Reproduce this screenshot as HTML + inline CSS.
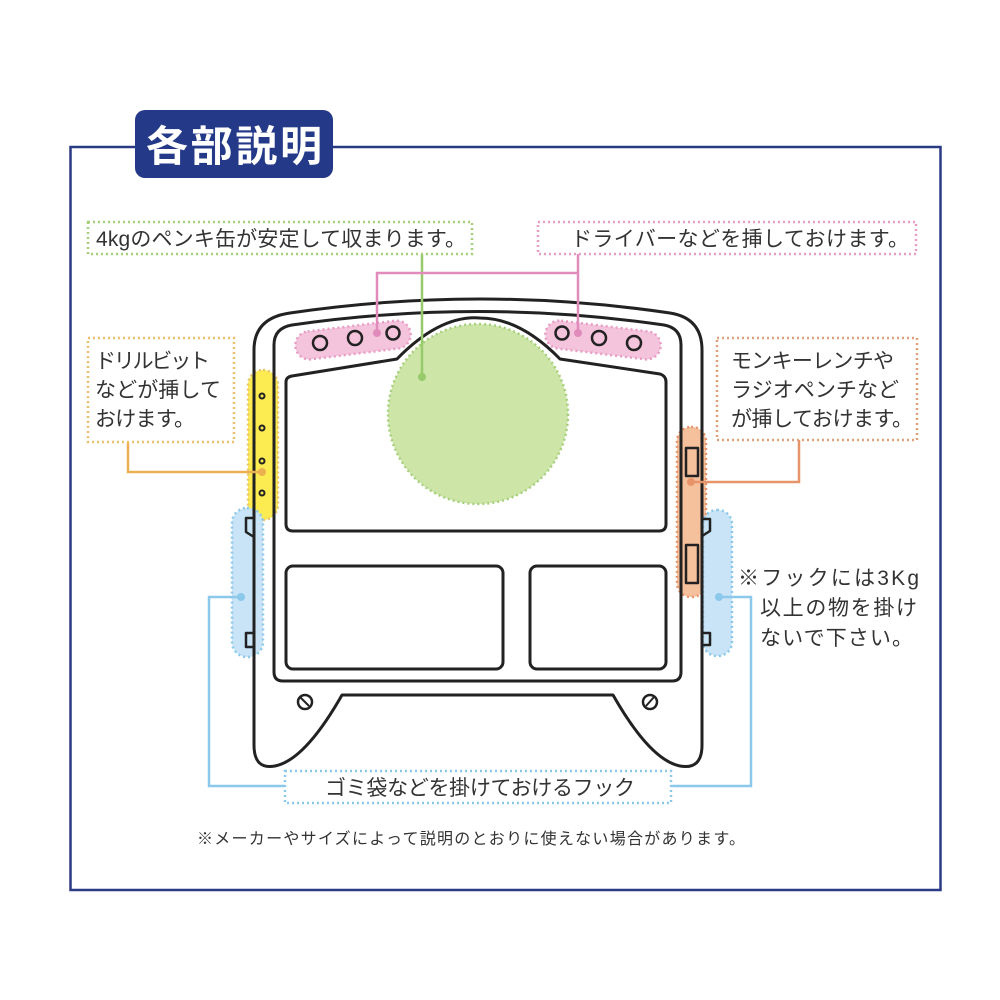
<!DOCTYPE html>
<html><head><meta charset="utf-8">
<style>
html,body{margin:0;padding:0;background:#fff;}
svg{display:block;}
text{font-family:"Liberation Sans","Noto Sans CJK JP",sans-serif;fill:#333;}
</style></head><body>
<svg width="1000" height="1000" viewBox="0 0 1000 1000" xmlns="http://www.w3.org/2000/svg">
<rect x="70.5" y="147" width="870" height="743" fill="none" stroke="#2b3a84" stroke-width="2.5"/>
<rect x="135" y="110" width="198" height="68" rx="10" fill="#243a88"/>
<rect x="135" y="146" width="198" height="3" fill="#243a88"/>
<text x="234" y="161" text-anchor="middle" font-size="42" font-weight="bold" style="fill:#fff" textLength="176">各部説明</text>

<path d="M254,350 Q254,318 290,313 Q480,285 670,313 Q702,318 702,350 L702,745 Q702,770 680,766 Q650,760 613,695 L342,695 Q305,760 275,766 Q254,770 254,745 Z" fill="#fff"/>

<rect x="248" y="370" width="30" height="150" rx="15" fill="#fcec52" stroke="#e8c46a" stroke-width="2.5" stroke-dasharray="2 3"/>
<rect x="232" y="508" width="31" height="149" rx="15" fill="#c9e4f6" stroke="#8cc8ea" stroke-width="2.5" stroke-dasharray="2 3"/>
<rect x="677" y="427" width="29" height="170" rx="14" fill="#f5c09c" stroke="#e8946a" stroke-width="2.5" stroke-dasharray="2 3"/>
<rect x="703" y="510" width="29" height="146" rx="14" fill="#c9e4f6" stroke="#8cc8ea" stroke-width="2.5" stroke-dasharray="2 3"/>
<g transform="rotate(-7 353 340)"><rect x="295" y="326" width="116" height="28" rx="14" fill="#f4c3dc" stroke="#e99cc4" stroke-width="2.5" stroke-dasharray="2 3"/></g>
<g transform="rotate(7 603 340)"><rect x="545" y="326" width="116" height="28" rx="14" fill="#f4c3dc" stroke="#e99cc4" stroke-width="2.5" stroke-dasharray="2 3"/></g>

<g fill="none" stroke="#222" stroke-width="3" stroke-linejoin="round">
<path d="M254,350 Q254,318 290,313 Q480,285 670,313 Q702,318 702,350 L702,745 Q702,770 680,766 Q650,760 613,695 L342,695 Q305,760 275,766 Q254,770 254,745 Z"/>
<path d="M274,345 Q274,328 292,325 Q480,298 664,325 Q681,328 681,345 L681,672 Q681,681 672,681 L283,681 Q274,681 274,672 Z"/>
<path d="M286,382 Q286,377 292,376 L397,359 Q440,315 480,318 Q520,318 560,359 L660,374 Q666,376 666,382 L666,524 Q666,531 659,531 L293,531 Q286,531 286,524 Z"/>
<rect x="286" y="566" width="217" height="103" rx="7"/>
<rect x="530" y="566" width="136" height="103" rx="7"/>
<circle cx="305" cy="702" r="7" stroke-width="2.5"/><line x1="300" y1="697" x2="309" y2="706" stroke-width="2"/>
<circle cx="650" cy="702" r="7" stroke-width="2.5"/><line x1="654" y1="697" x2="646" y2="706" stroke-width="2"/>
<path d="M254,518 L246,518 L246,532 L254,537" stroke-width="2.5"/>
<path d="M254,633 L246,633 L246,647 L254,647" stroke-width="2.5"/>
<path d="M702,519 L710,519 L710,531 L702,536" stroke-width="2.5"/>
<path d="M702,633 L710,633 L710,645 L702,645" stroke-width="2.5"/>
<rect x="686" y="448" width="12" height="28" stroke-width="2.5"/>
<rect x="686" y="545" width="12" height="38" stroke-width="2.5"/>
<circle cx="320" cy="343" r="7" stroke-width="2.5"/><circle cx="355" cy="338" r="7" stroke-width="2.5"/><circle cx="393" cy="333" r="6.5" stroke-width="2.5"/>
<circle cx="562" cy="333" r="6.5" stroke-width="2.5"/><circle cx="599" cy="338" r="7" stroke-width="2.5"/><circle cx="634" cy="343" r="7" stroke-width="2.5"/>
<circle cx="262" cy="396" r="2.5" stroke-width="2"/><circle cx="262" cy="428" r="2.5" stroke-width="2"/><circle cx="262" cy="461" r="2.5" stroke-width="2"/><circle cx="262" cy="493" r="2.5" stroke-width="2"/>
</g>

<circle cx="478" cy="414" r="90" fill="#cde6a8" stroke="#a6cf7c" stroke-width="2.5" stroke-dasharray="2 3"/>

<g fill="none" stroke-width="2.5">
<path d="M422,377 L422,254" stroke="#98c96a"/>
<path d="M377,333 L377,273 L578,273 M578,333 L578,254" stroke="#e08bbb"/>
<path d="M262,472 L128,472 L128,442" stroke="#ebb050"/>
<path d="M691,482 L799,482 L799,440" stroke="#e8946a"/>
<path d="M241,597 L209,597 L209,786 L285,786" stroke="#8cc8ea"/>
<path d="M719,597 L751,597 L751,786 L671,786" stroke="#8cc8ea"/>
</g>
<g>
<circle cx="422" cy="377" r="4" fill="#98c96a"/>
<circle cx="377" cy="333" r="4" fill="#e08bbb"/><circle cx="578" cy="333" r="4" fill="#e08bbb"/>
<circle cx="262" cy="472" r="4" fill="#ebb050"/>
<circle cx="691" cy="482" r="4" fill="#e8946a"/>
<circle cx="241" cy="597" r="4" fill="#8cc8ea"/><circle cx="719" cy="597" r="4" fill="#8cc8ea"/>
</g>

<g fill="#fff" stroke-width="2.5" stroke-dasharray="2 3">
<rect x="88" y="222" width="384" height="32" stroke="#a6cf7c"/>
<rect x="538" y="222" width="378" height="32" stroke="#e99cc4"/>
<rect x="88" y="338" width="146" height="104" stroke="#ebc06a"/>
<rect x="717" y="338" width="200" height="102" stroke="#e0a07a"/>
<rect x="285" y="771" width="386" height="32" stroke="#8cc8ea"/>
</g>
<g font-size="21">
<text x="96" y="246" textLength="370">4kgのペンキ缶が安定して収まります。</text>
<text x="571" y="246" textLength="338">ドライバーなどを挿しておけます。</text>
<text x="95" y="368" textLength="115">ドリルビット</text>
<text x="95" y="397" textLength="126">などが挿して</text>
<text x="95" y="426" textLength="100">おけます。</text>
<text x="731" y="368" textLength="163">モンキーレンチや</text>
<text x="731" y="397" textLength="168">ラジオペンチなど</text>
<text x="731" y="426" textLength="182">が挿しておけます。</text>
<text x="738" y="585" textLength="180" letter-spacing="-1">※フックには3Kg</text>
<text x="760" y="615" textLength="156" letter-spacing="-1">以上の物を掛け</text>
<text x="760" y="645" textLength="152" letter-spacing="-1">ないで下さい。</text>
<text x="325" y="795" textLength="310">ゴミ袋などを掛けておけるフック</text>
</g>
<text x="197" y="844" font-size="16" textLength="548">※メーカーやサイズによって説明のとおりに使えない場合があります。</text>
</svg>
</body></html>
